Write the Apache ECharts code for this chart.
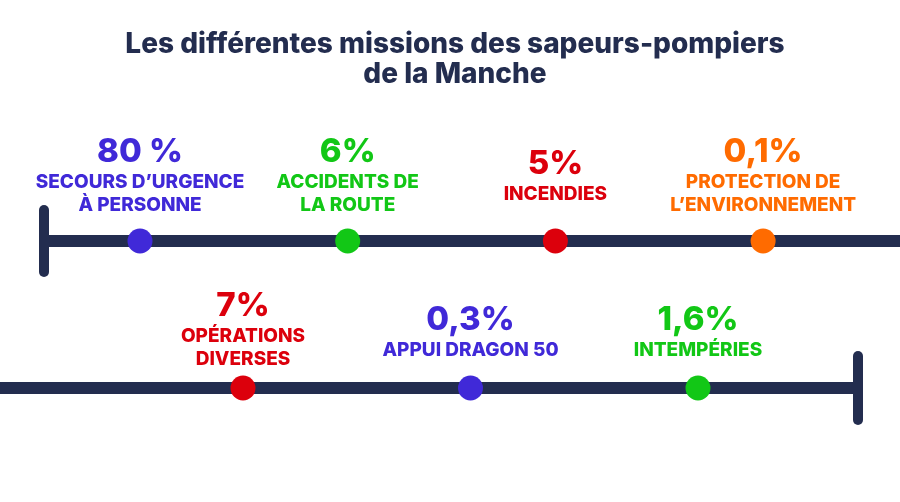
<!DOCTYPE html>
<html>
<head>
<meta charset="utf-8">
<style>
  html, body { margin: 0; padding: 0; background: #fff; }
  #chart { width: 900px; height: 502px; }
</style>
<script src="https://cdn.jsdelivr.net/npm/echarts@6/dist/echarts.min.js"></script>
</head>
<body>
<div id="chart"></div>
<script>
// data
var missionsTop = ['SECOURS D’URGENCE\nÀ PERSONNE', 'ACCIDENTS DE\nLA ROUTE', 'INCENDIES', 'PROTECTION DE\nL’ENVIRONNEMENT'];
var valuesTop = [80, 6, 5, 0.1];
var missionsBottom = ['OPÉRATIONS\nDIVERSES', 'APPUI DRAGON 50', 'INTEMPÉRIES'];
var valuesBottom = [7, 0.3, 1.6];

// styles
var NAVY = '#232d4f';
var BLUE = '#4029d8', GREEN = '#12c716', RED = '#dc000c', ORANGE = '#ff6b00';
var colorsTop = [BLUE, GREEN, RED, ORANGE];
var colorsBottom = [RED, BLUE, GREEN];
var labelGapTop = [12, 12, 23, 12];
var labelGapBottom = [5, 14, 14];
var FONT = 'Inter';

// pixel layout of each timeline: first dot, spacing between dots, line ends
function span(firstDot, step, left, right) {
  return { min: (left - firstDot) / step, max: (right - firstDot) / step };
}
var spanTop = span(140, 207.7, 44, 900);
var spanBottom = span(243, 227.5, 0, 858);

function fmtPct(v) {
  return String(v).replace('.', ',') + (v >= 10 ? ' %' : '%');
}

function points(values, names, colors, gaps) {
  return values.map(function (v, i) {
    return {
      value: [i, 0],
      itemStyle: { color: colors[i], opacity: 1 },
      label: {
        show: true,
        position: 'top',
        distance: gaps[i],
        align: 'center',
        formatter: '{v|' + fmtPct(v) + '}\n' +
          names[i].split('\n').map(function (s) { return '{t|' + s + '}'; }).join('\n'),
        rich: {
          v: { fontFamily: FONT, fontSize: 33, fontWeight: 800, lineHeight: 37, color: colors[i], align: 'center' },
          t: { fontFamily: FONT, fontSize: 19, fontWeight: 800, lineHeight: 23, color: colors[i], align: 'center' }
        }
      }
    };
  });
}

function timelineX(idx, s) {
  return {
    gridIndex: idx, type: 'value', min: s.min, max: s.max,
    axisLine: { show: true, onZero: true, lineStyle: { color: NAVY, width: 12, cap: 'butt' } },
    axisTick: { show: false }, axisLabel: { show: false }, splitLine: { show: false }
  };
}
function timelineY(idx, pos) {
  return {
    gridIndex: idx, type: 'value', min: -1, max: 1, position: pos,
    axisLine: { show: true, onZero: false, lineStyle: { color: NAVY, width: 10, cap: 'round' } },
    axisTick: { show: false }, axisLabel: { show: false }, splitLine: { show: false }
  };
}

var chart = echarts.init(document.getElementById('chart'));
chart.setOption({
  backgroundColor: '#fff',
  animation: false,
  title: {
    text: 'Les différentes missions des sapeurs-pompiers\nde la Manche',
    left: 450,
    top: 25,
    textAlign: 'center',
    textStyle: { fontFamily: FONT, fontSize: 28, fontWeight: 800, lineHeight: 30, color: NAVY }
  },
  grid: [
    { left: 44, right: 0, top: 210, height: 62 },
    { left: 0, right: 42, top: 356, height: 64 }
  ],
  xAxis: [timelineX(0, spanTop), timelineX(1, spanBottom)],
  yAxis: [timelineY(0, 'left'), timelineY(1, 'right')],
  series: [
    {
      type: 'scatter', xAxisIndex: 0, yAxisIndex: 0, symbolSize: 25,
      data: points(valuesTop, missionsTop, colorsTop, labelGapTop)
    },
    {
      type: 'scatter', xAxisIndex: 1, yAxisIndex: 1, symbolSize: 25,
      data: points(valuesBottom, missionsBottom, colorsBottom, labelGapBottom)
    }
  ]
});
</script>
</body>
</html>
